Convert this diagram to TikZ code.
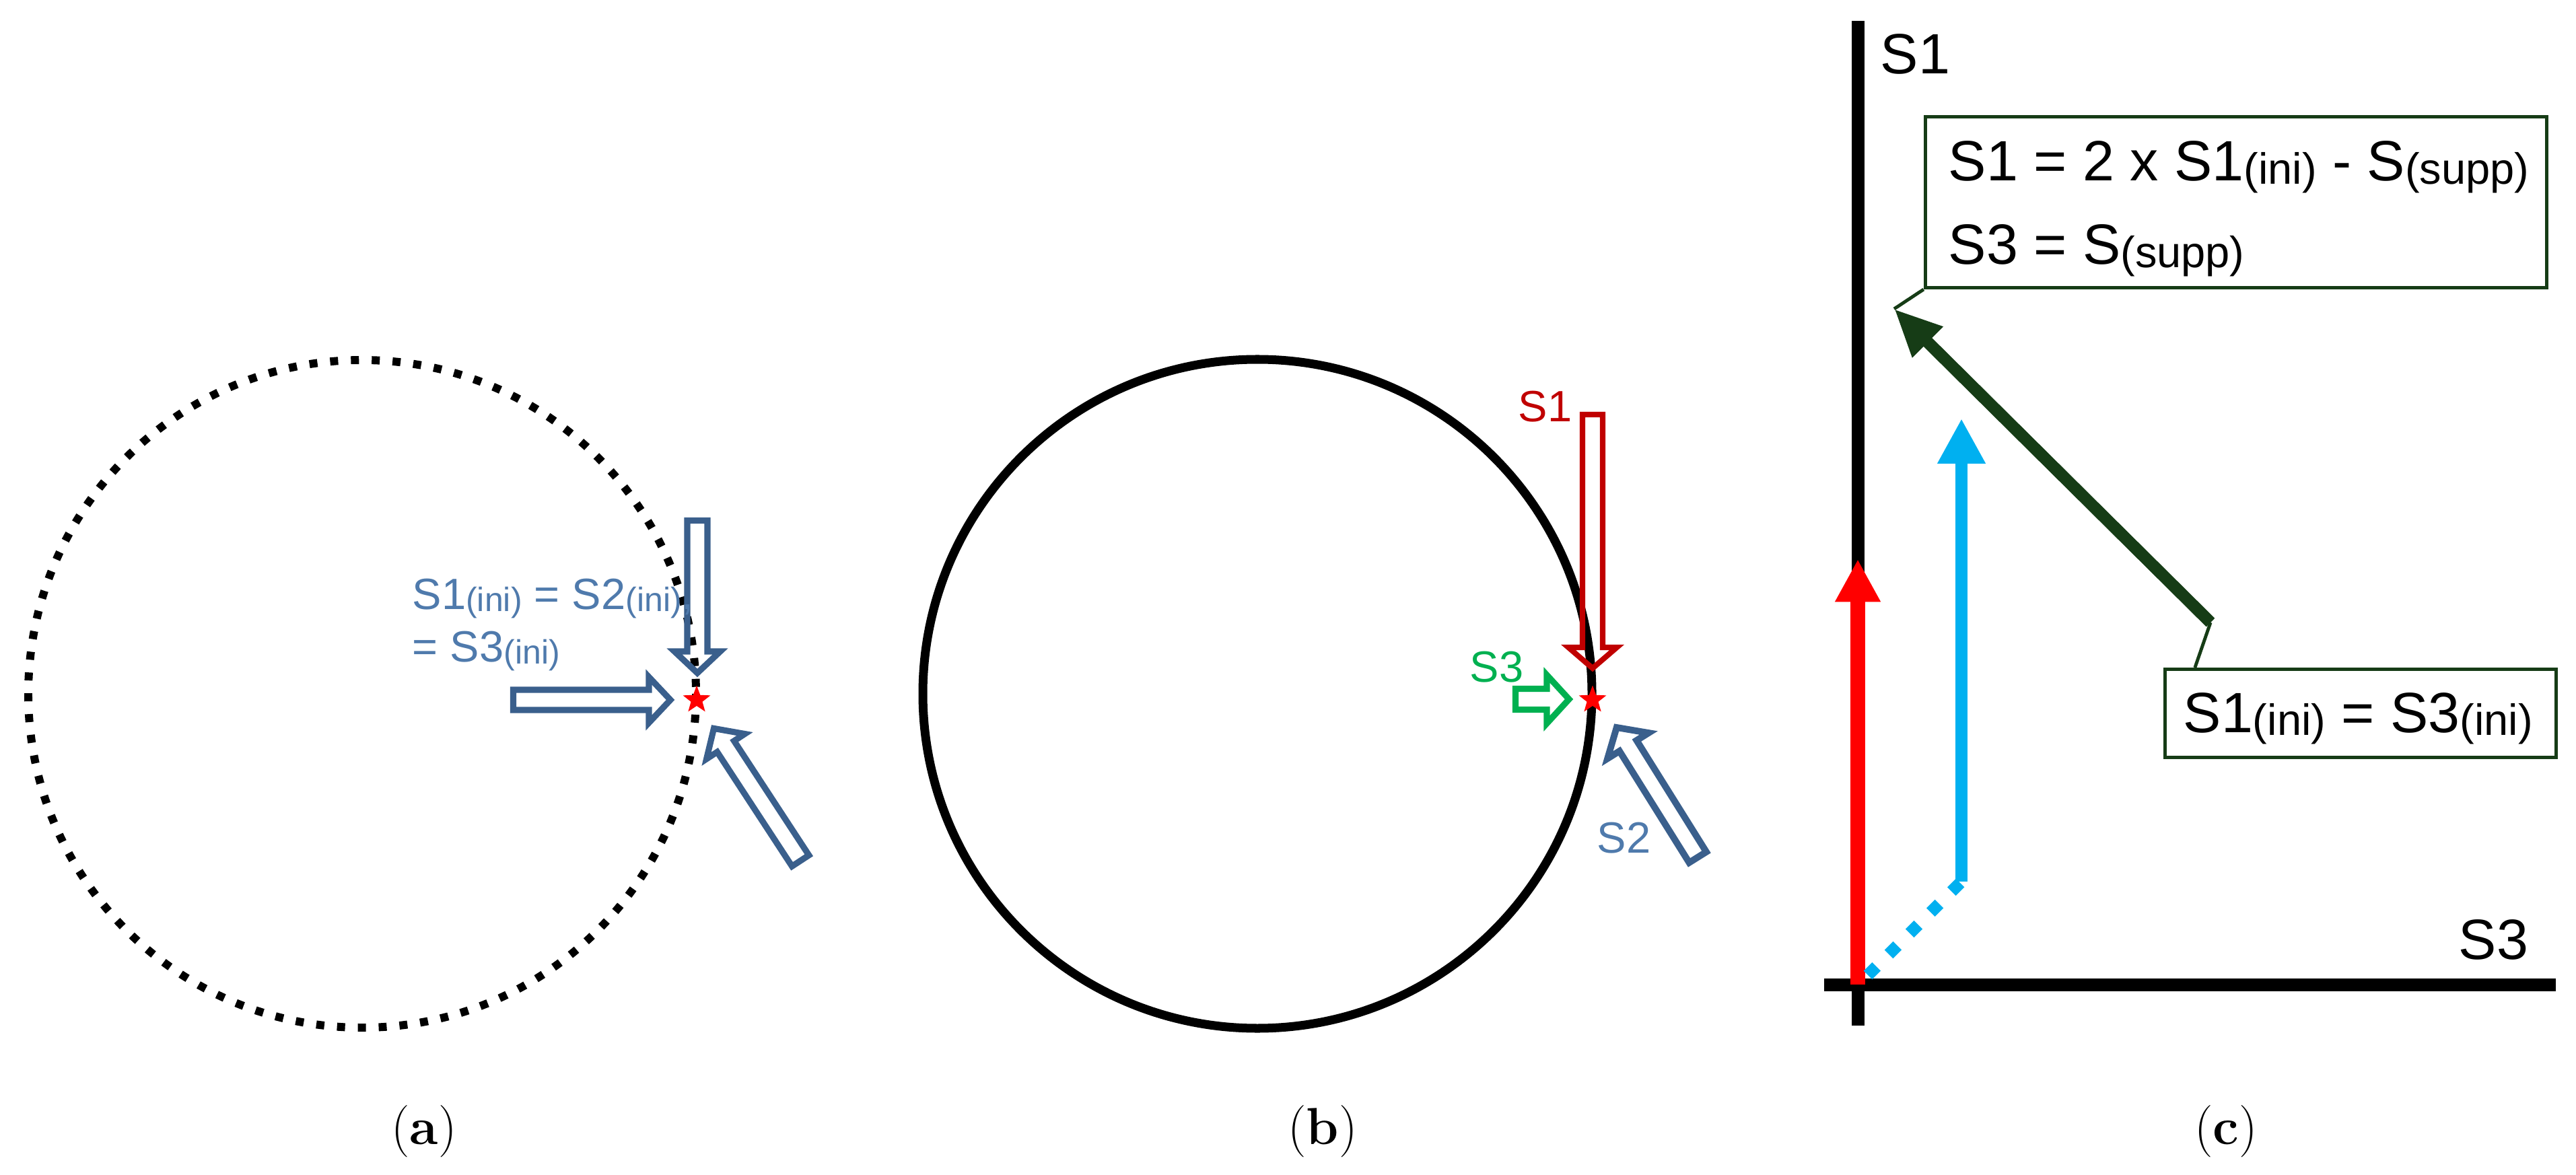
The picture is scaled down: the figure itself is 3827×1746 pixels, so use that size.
\documentclass[tikz,border=0pt]{standalone}
\usepackage{fontspec}
\newfontfamily\arialf{Liberation Sans}
\usepackage{tikz}
\usetikzlibrary{positioning,calc,arrows.meta,shapes.geometric}
\definecolor{sblue}{RGB}{58,95,140}
\definecolor{lblue}{RGB}{79,122,172}
\definecolor{dred}{RGB}{192,0,0}
\definecolor{lgreen}{RGB}{0,176,80}
\definecolor{skyblue}{RGB}{0,176,240}
\definecolor{dgreen}{RGB}{22,60,22}
\newcommand{\lo}[1]{\raisebox{-0.05em}{\scalebox{0.77}{#1}}}
% block arrow: style, tip, angle, length, shaft half, head half, head length
\newcommand{\barrow}[7]{%
  \draw[#1,shift={(#2)},rotate=#3] (0,0) -- (-#7,#6) -- (-#7,#5) -- (-#4,#5)
    -- (-#4,-#5) -- (-#7,-#5) -- (-#7,-#6) -- cycle;}
\tikzset{
  axisline/.style={line width=5.4pt},
  ring/.style={line width=3.7pt},
  dotring/.style={line width=3.4pt,dash pattern=on 3.4pt off 5.4pt},
  blockarr/.style={line width=2.6pt,line join=miter},
  hit/.style={star,star points=5,star point ratio=2.4,fill=red,
    minimum size=12.2pt,inner sep=0pt},
  lbl/.style={font=\arialf\fontsize{18.5}{22}\selectfont,inner sep=0pt,anchor=base west},
  biglbl/.style={font=\arialf\fontsize{24}{28}\selectfont,inner sep=0pt,anchor=base west},
  callout/.style={draw=dgreen,line width=1.4pt,fill=white,inner sep=0pt},
  pointer/.style={draw=dgreen,line width=1.4pt},
  redvec/.style={red,line width=6.3pt,-{Triangle[length=18pt,width=18pt]}},
  skyvec/.style={skyblue,line width=5.1pt},
  dgvec/.style={dgreen,line width=5.1pt,-{Triangle[length=20pt,width=17pt]}},
  panelcap/.style={font=\fontsize{22}{26}\selectfont,inner sep=0pt,anchor=base}
}
\begin{document}
\begin{tikzpicture}[x=0.01cm,y=-0.01cm]
  \useasboundingbox (0,0) rectangle (3827,1746);

  % (a)
  \draw[dotring] (538,1031) circle (496);
  \coordinate (tipA1) at (1036,1000);
  \coordinate (tipA2) at (996,1040);
  \coordinate (tipA3) at (1060.5,1082.4);
  \barrow{blockarr,draw=sblue}{tipA1}{-90}{226.5}{15}{34}{32}
  \barrow{blockarr,draw=sblue}{tipA2}{0}{233.5}{15}{34}{32}
  \barrow{blockarr,draw=sblue}{tipA3}{123.2}{235}{15}{34}{32}
  \node[hit] (hitA) at (1035,1040) {};
  \node[lbl,text=lblue] (iniA1) at (612,905) {S1\lo{(ini)} = S2\lo{(ini)},};
  \node[lbl,text=lblue] (iniA2) at (612,983) {= S3\lo{(ini)}};
  \node[panelcap] (capA) at (630,1700) {(\textbf{a})};

  % (b)
  \draw[ring] (1868,1031) circle (497);
  \coordinate (tipB1) at (2366,993);
  \coordinate (tipB2) at (2401.7,1081);
  \coordinate (tipB3) at (2331,1039);
  \barrow{blockarr,draw=dred,line width=2.3pt}{tipB1}{-90}{377}{15}{36}{31}
  \barrow{blockarr,draw=sblue,line width=2.8pt}{tipB2}{122}{227.4}{15}{36}{32}
  \barrow{blockarr,draw=lgreen}{tipB3}{0}{79.5}{15.5}{36}{33}
  \node[hit] (hitB) at (2366,1040) {};
  \node[lbl,text=dred] (labS1) at (2255,627) {S1};
  \node[lbl,text=lgreen] (labS3) at (2183,1013) {S3};
  \node[lbl,text=lblue] (labS2) at (2372,1267) {S2};
  \node[panelcap] (capB) at (1965,1700) {(\textbf{b})};

  % (c)
  \coordinate (orig) at (2760,1463);
  \draw[axisline] (2760,31) -- (2760,1524);
  \draw[axisline] (2710,1463) -- (3797,1463);
  \node[biglbl] (axS1) at (2793,110) {S1};
  \node[biglbl] (axS3) at (3652,1425) {S3};
  \draw[redvec] (orig) -- (2760,831);
  \coordinate (bend) at (2914,1310);
  \draw[skyvec,dash pattern=on 5.1pt off 7.4pt] (2775,1449) -- (bend);
  \draw[skyvec,-{Triangle[length=19pt,width=19pt]}] (bend) -- (2914,622);
  \node[callout,minimum width=9.23cm,minimum height=2.54cm] (supBox) at (3322,300.5) {};
  \node[callout,minimum width=5.81cm,minimum height=1.31cm] (iniBox) at (3507,1060) {};
  \coordinate (supTip) at (2814,459);
  \coordinate (joint) at (3284,925);
  \draw[pointer] (supBox.south west) -- (supTip);
  \draw[pointer] ($(iniBox.north west)+(47,0)$) -- (joint);
  \draw[dgvec] (joint) -- (supTip);
  \node[biglbl] (supL1) at (2894,269) {S1 = 2 x S1\lo{(ini)} - S\lo{(supp)}};
  \node[biglbl] (supL2) at (2894,393) {S3 = S\lo{(supp)}};
  \node[biglbl] (iniL) at (3243,1088) {S1\lo{(ini)} = S3\lo{(ini)}};
  \node[panelcap] (capC) at (3307,1700) {(\textbf{c})};
\end{tikzpicture}
\end{document}
